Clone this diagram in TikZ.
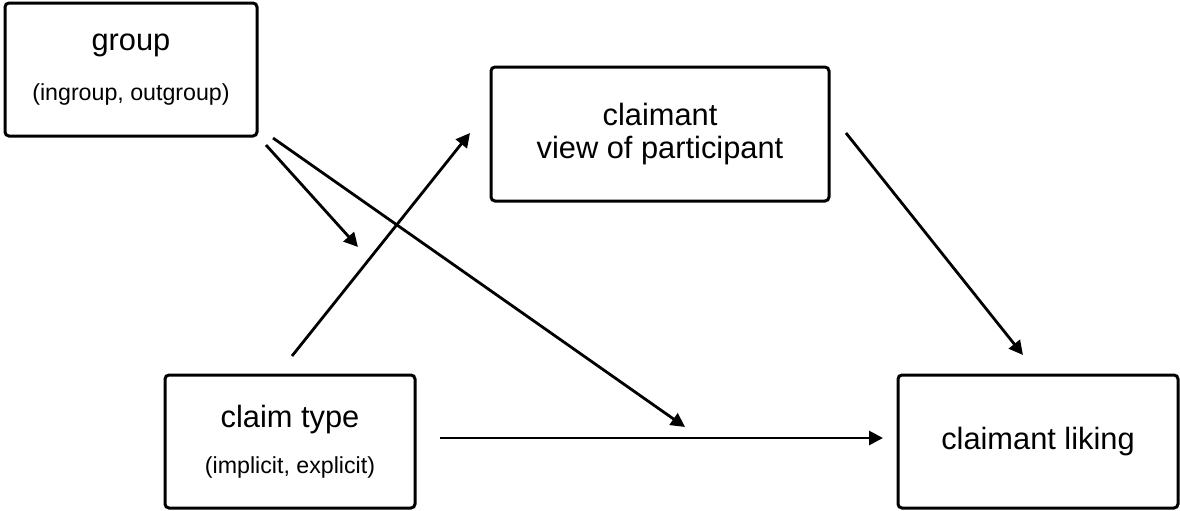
\documentclass[tikz,border=0pt]{standalone}
\usepackage{fontspec}
\setmainfont{Liberation Sans}
\usepackage{xcolor}
\usepackage{tikz}
\usetikzlibrary{arrows.meta}

\newcommand{\bigtxt}{\fontsize{15.4}{16.5}\selectfont}
\newcommand{\smalltxt}{\fontsize{11.6}{14}\selectfont}

\begin{document}
\begin{tikzpicture}[x=0.5pt,y=-0.5pt,>={Triangle[length=7pt,width=7pt]}]
\useasboundingbox (0,0) rectangle (1180,510);
\tikzset{varbox/.style={rectangle,draw,line width=1.5pt,rounded corners=2pt,align=center,inner sep=0pt,font=\bigtxt}}
\node [varbox,minimum width = 126pt, minimum height = 66.5pt] (group) at (131,69.5)
{group\\[8.5pt]\smalltxt (ingroup, outgroup)};
\node [varbox,minimum width = 169pt, minimum height = 67pt] (view) at (660,134)
{claimant\\view of participant};
\node [varbox,minimum width = 125pt, minimum height = 66.5pt] (claim) at (290,441.5)
{claim type\\[6.5pt]\smalltxt (implicit, explicit)};
\node [varbox,minimum width = 140pt, minimum height = 66.5pt] (liking) at (1038,441.5)
{claimant liking};
\coordinate (g1) at (266,145);
\coordinate (g2) at (273,138);
\coordinate (m1) at (358,247);
\coordinate (m2) at (685,427);
\coordinate (c1) at (292,356);
\coordinate (c2) at (440,438);
\coordinate (v1) at (470,133);
\coordinate (v2) at (846,133);
\coordinate (l1) at (1023,355);
\coordinate (l2) at (883,438);
\begin{scope}[line width=1.4pt]
\draw (g1)[->] -- (m1);
\draw (g2)[->] -- (m2);
\draw (c1)[->] -- (v1);
\draw (v2)[->] -- (l1);
\draw (c2)[->] -- (l2);
\end{scope}
\end{tikzpicture}
\end{document}
